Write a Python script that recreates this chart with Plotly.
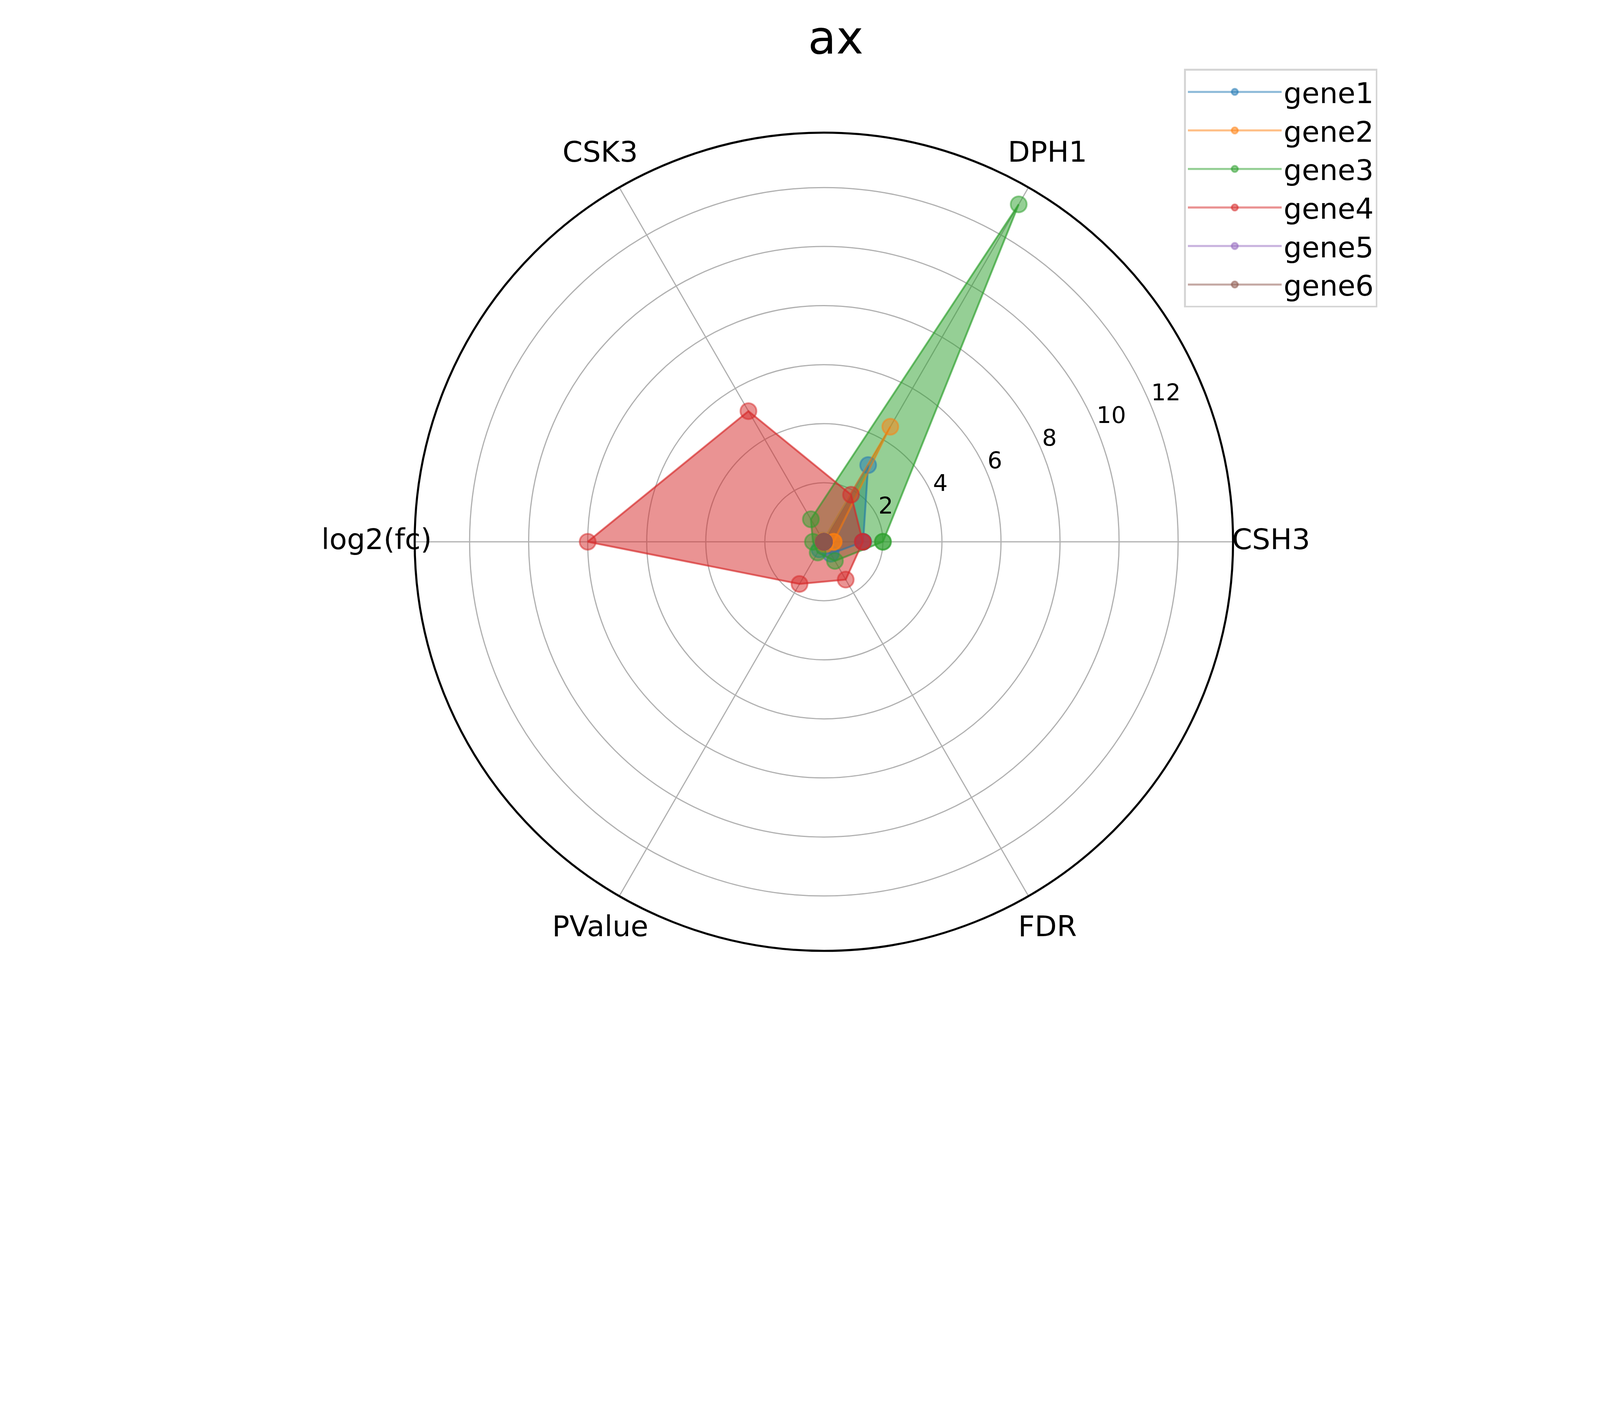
import plotly.graph_objects as go

# radar of six genes over six metrics (matplotlib-style look)
CATEGORIES = ['CSH3', 'DPH1', 'CSK3', 'log2(fc)', 'PValue', 'FDR']
GENES = ['gene1', 'gene2', 'gene3', 'gene4', 'gene5', 'gene6']

gene1 = [1.33, 3.0, 0.05, 0.05, 0.3, 0.47]
gene2 = [0.33, 4.5, 0.05, 0.02, 0.05, 0.1]
gene3 = [2.0, 13.2, 0.88, 0.37, 0.42, 0.75]
gene4 = [1.32, 1.84, 5.11, 8.0, 1.65, 1.48]
gene5 = [0, 0, 0, 0, 0, 0]
gene6 = [0, 0, 0, 0, 0, 0]
VALUES = [gene1, gene2, gene3, gene4, gene5, gene6]

RADIAL_TICKS = [2, 4, 6, 8, 10, 12]

COLORS = ['31,119,180', '255,127,14', '44,160,44', '214,39,40', '148,103,189', '140,86,75']

# the browser window is only 4096 px wide, so keep the 5400x3600 proportions
# and scale every size measured on the reference by K
RW, RH = 5400, 3600
W = 4096
H = round(W * RH / RW)
K = RW / W
FONT = 'DejaVu Sans'


def px(v):
    return v / K


n = len(CATEGORIES)
angles = [360 * i / n for i in range(n)]
theta = angles + [angles[0]]

fig = go.Figure()

# fills go underneath every line (matplotlib zorder: patches < lines)
for vals, c in zip(VALUES, COLORS):
    fig.add_trace(go.Scatterpolar(
        r=vals + [vals[0]], theta=theta, mode='lines', fill='toself',
        fillcolor=f'rgba({c},0.5)',
        line=dict(color=f'rgba({c},0.5)', width=px(3)),
        showlegend=False, hoverinfo='skip'))

for name, vals, c in zip(GENES, VALUES, COLORS):
    fig.add_trace(go.Scatterpolar(
        r=vals + [vals[0]], theta=theta, mode='lines+markers', name=name,
        line=dict(color=f'rgba({c},0.5)', width=px(7)),
        marker=dict(size=px(54), color=f'rgba({c},0.5)',
                    line=dict(color=f'rgba({c},0.5)', width=px(6)))))

rmax = max(max(v) for v in VALUES) * 1.05

# radial tick labels, matplotlib puts them at 22.5 deg just above each ring
fig.add_trace(go.Scatterpolar(
    r=RADIAL_TICKS, theta=[22.5] * len(RADIAL_TICKS), mode='text',
    text=[str(t) for t in RADIAL_TICKS], textposition='top right',
    textfont=dict(size=px(78), family=FONT, color='black'),
    showlegend=False, hoverinfo='skip', cliponaxis=False))

# category labels sit outside the circle -> a bigger invisible polar on top
LABEL_SCALE = 1.2
fig.add_trace(go.Scatterpolar(
    r=[rmax * 1.093] * n, theta=angles, mode='text', text=CATEGORIES,
    textposition='middle center', subplot='polar2',
    textfont=dict(size=px(97), family=FONT, color='black'),
    showlegend=False, hoverinfo='skip', cliponaxis=False))

cx, cy, rad = 2770, 1818, 1381


def dom(rr):
    return dict(x=[(cx - rr) / RW, (cx + rr) / RW], y=[1 - (cy + rr) / RH, 1 - (cy - rr) / RH])


fig.update_layout(
    width=W, height=H,
    margin=dict(l=0, r=0, t=0, b=0),
    paper_bgcolor='white',
    font=dict(family=FONT, color='black'),
    title=dict(text='ax', x=2810 / RW, y=1 - 116 / RH, xanchor='center', yanchor='middle',
               font=dict(size=px(155), family=FONT, color='black')),
    polar=dict(
        domain=dom(rad),
        bgcolor='white',
        radialaxis=dict(range=[0, rmax], tickvals=RADIAL_TICKS, angle=22.5,
                        showticklabels=False, showline=False, ticks='',
                        gridcolor='#b0b0b0', gridwidth=px(4.5)),
        angularaxis=dict(direction='counterclockwise', rotation=0, thetaunit='degrees',
                         tickvals=angles, ticktext=CATEGORIES, showticklabels=False, ticks='',
                         showline=True, linecolor='black', linewidth=px(7),
                         gridcolor='#b0b0b0', gridwidth=px(4.5)),
    ),
    polar2=dict(
        domain=dom(rad * LABEL_SCALE),
        bgcolor='rgba(0,0,0,0)',
        radialaxis=dict(range=[0, rmax * LABEL_SCALE], visible=False),
        angularaxis=dict(direction='counterclockwise', rotation=0, visible=False),
    ),
    legend=dict(x=3986 / RW, y=1 - 222 / RH, xanchor='left', yanchor='top',
                bgcolor='white', bordercolor='#d5d5d5', borderwidth=px(6),
                font=dict(size=px(97), family=FONT, color='black'),
                itemwidth=240, tracegroupgap=0),
)

fig.write_html("out.html")
